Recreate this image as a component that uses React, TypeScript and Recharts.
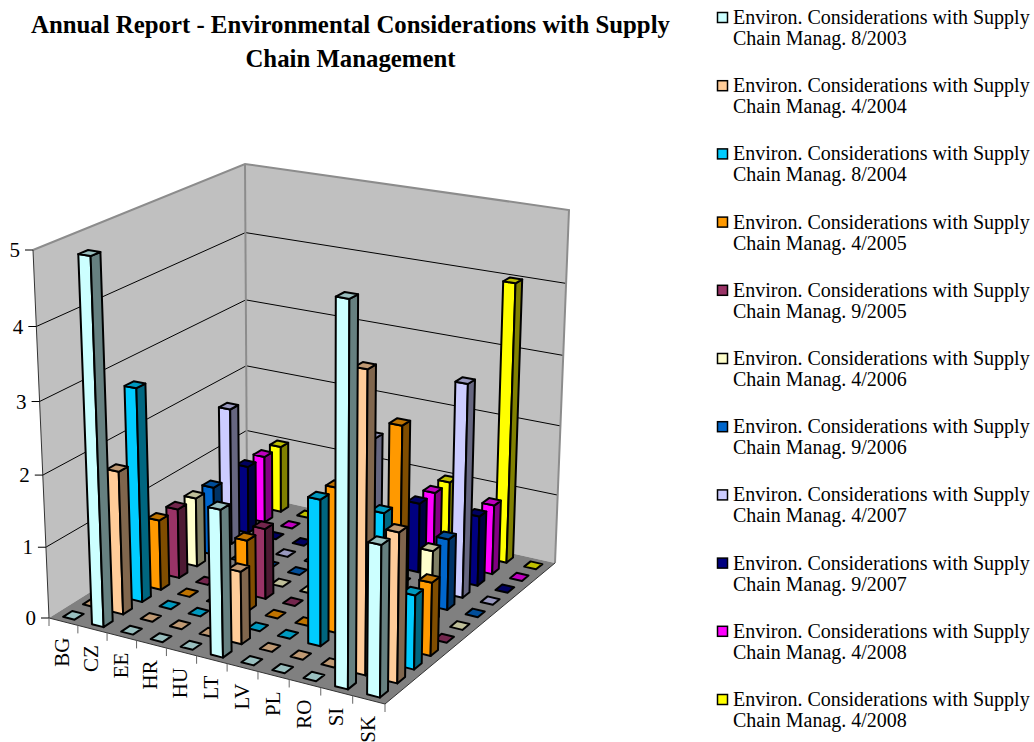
import React from 'react';
import { ScatterChart, Scatter, XAxis, YAxis } from 'recharts';

const WIDTH = 1034;
const HEIGHT = 742;
const FONT = '"Liberation Serif", "Times New Roman", serif';

const titleLines = [
  'Annual Report - Environmental Considerations with Supply',
  'Chain Management',
];
const countries = ['BG', 'CZ', 'EE', 'HR', 'HU', 'LT', 'LV', 'PL', 'RO', 'SI', 'SK'];
const valueTicks = [0, 1, 2, 3, 4, 5];
const MAX_VALUE = 5;

const seriesPrefix = 'Environ. Considerations with Supply';
const seriesDates = ['8/2003', '4/2004', '8/2004', '4/2005', '9/2005', '4/2006', '9/2006', '4/2007', '9/2007', '4/2008', '4/2008'];
const seriesColors = ['#ccffff', '#ffcc99', '#00ccff', '#ff9900', '#993366', '#ffffcc', '#0066cc', '#ccccff', '#000080', '#ff00ff', '#ffff00'];

// one row per survey, one column per country
const aug2003 = [0, 5, 0, 0, 0, 2, 0, 0, 0, 5, 2];
const apr2004 = [0, 2, 0, 0, 0, 1, 0, 0, 0, 4, 2];
const aug2004 = [0, 3, 0, 0, 0, 0, 0, 2, 0, 2, 1];
const apr2005 = [0, 1, 0, 0, 1, 0, 0, 2, 0, 3, 1];
const sep2005 = [0, 1, 0, 0, 1, 0, 0, 0, 0, 0, 0];
const apr2006 = [0, 1, 0, 0, 0, 0, 0, 0, 0, 1, 0];
const sep2006 = [0, 1, 0, 0, 0, 0, 0, 0, 0, 1, 0];
const apr2007 = [0, 2, 0, 0, 0, 0, 2, 0, 0, 3, 0];
const sep2007 = [0, 1, 0, 0, 0, 0, 0, 1, 0, 1, 0];
const apr2008a = [0, 1, 0, 0, 0, 0, 0, 1, 0, 1, 0];
const apr2008b = [0, 1, 0, 0, 0, 0, 0, 1, 0, 4, 0];
const seriesValues = [aug2003, apr2004, aug2004, apr2005, sep2005, apr2006, sep2006, apr2007, sep2007, apr2008a, apr2008b];

type Pt = [number, number];

// corners of the plot box: left, front, right, back
const floorQuad: Pt[] = [[49, 618], [385, 704], [555, 563], [247, 494]];
const ceilQuad: Pt[] = [[33, 250], [389, 309], [569, 210], [245, 164]];

// unit square to quad perspective map
const makeHomography = (q: Pt[]) => {
  const [[x0, y0], [x1, y1], [x2, y2], [x3, y3]] = q;
  const dx1 = x1 - x2, dx2 = x3 - x2, sx = x0 - x1 + x2 - x3;
  const dy1 = y1 - y2, dy2 = y3 - y2, sy = y0 - y1 + y2 - y3;
  const den = dx1 * dy2 - dx2 * dy1;
  const g = (sx * dy2 - dx2 * sy) / den;
  const h = (dx1 * sy - sx * dy1) / den;
  const a = x1 - x0 + g * x1, b = x3 - x0 + h * x3;
  const d = y1 - y0 + g * y1, e = y3 - y0 + h * y3;
  return (u: number, v: number): Pt => {
    const w = g * u + h * v + 1;
    return [(a * u + b * v + x0) / w, (d * u + e * v + y0) / w];
  };
};
const floorMap = makeHomography(floorQuad);
const ceilMap = makeHomography(ceilQuad);

// u along the countries, v along the surveys, value up
const project = (u: number, v: number, value: number): Pt => {
  const t = value / MAX_VALUE;
  const z = t / (t + (1 - t) * 1.05);
  const [fx, fy] = floorMap(u, v);
  const [cx, cy] = ceilMap(u, v);
  return [fx + (cx - fx) * z, fy + (cy - fy) * z];
};

const toPoints = (pts: Pt[]) => pts.map((p) => `${p[0].toFixed(1)},${p[1].toFixed(1)}`).join(' ');

const shade = (hex: string, k: number) => {
  const n = parseInt(hex.slice(1), 16);
  const ch = (s: number) => Math.round(((n >> s) & 255) * k);
  return `rgb(${ch(16)},${ch(8)},${ch(0)})`;
};

const nCat = countries.length;
const nSer = seriesValues.length;
const BAR_U = 0.2;
const BAR_V = 0.23;

interface BarPoint {
  x: number;
  y: number;
  cat: number;
  ser: number;
  value: number;
}

const Bar3D = (props: any) => {
  const { cat, ser, value } = props.payload as BarPoint;
  const color = seriesColors[ser];
  const u0 = (cat + 0.5 - BAR_U) / nCat, u1 = (cat + 0.5 + BAR_U) / nCat;
  const v0 = (ser + 0.5 - BAR_V) / nSer, v1 = (ser + 0.5 + BAR_V) / nSer;
  const top = [project(u0, v0, value), project(u1, v0, value), project(u1, v1, value), project(u0, v1, value)];
  const bottom = [project(u0, v0, 0), project(u1, v0, 0), project(u1, v1, 0)];
  const line = { stroke: '#000', strokeWidth: 2, strokeLinejoin: 'round' as const };
  if (value === 0) {
    return <polygon points={toPoints(top)} fill={shade(color, 0.75)} {...line} />;
  }
  return (
    <g>
      <polygon points={toPoints([top[0], top[1], bottom[1], bottom[0]])} fill={color} {...line} />
      <polygon points={toPoints([top[1], top[2], bottom[2], bottom[1]])} fill={shade(color, 0.5)} {...line} />
      <polygon points={toPoints(top)} fill={shade(color, 0.75)} {...line} />
    </g>
  );
};

const BoxWalls = () => {
  const left = project(0, 0, 0), front = project(1, 0, 0), right = project(1, 1, 0), back = project(0, 1, 0);
  const leftTop = project(0, 0, MAX_VALUE), rightTop = project(1, 1, MAX_VALUE), backTop = project(0, 1, MAX_VALUE);
  return (
    <g>
      <polygon points={toPoints([leftTop, backTop, back, left])} fill="#c0c0c0" />
      <polygon points={toPoints([backTop, rightTop, right, back])} fill="#c0c0c0" />
      {valueTicks.slice(1, -1).map((t) => (
        <polyline
          key={t}
          points={toPoints([project(0, 0, t), project(0, 1, t), project(1, 1, t)])}
          fill="none"
          stroke="#000"
          strokeWidth={1}
        />
      ))}
      <polyline points={toPoints([leftTop, backTop, rightTop, right])} fill="none" stroke="#8c8c8c" strokeWidth={2} />
      <line x1={backTop[0]} y1={backTop[1]} x2={back[0]} y2={back[1]} stroke="#8c8c8c" strokeWidth={2} />
      <polygon points={toPoints([left, front, right, back])} fill="#808080" />
      <line x1={leftTop[0]} y1={leftTop[1]} x2={left[0]} y2={left[1]} stroke="#333" strokeWidth={1} />
      <polyline points={toPoints([left, front, right])} fill="none" stroke="#333" strokeWidth={1} />

      {/* value axis */}
      {valueTicks.map((t) => {
        const [x, y] = project(0, 0, t);
        return (
          <g key={t}>
            <line x1={x - 8} y1={y} x2={x} y2={y} stroke="#000" strokeWidth={1} />
            <text x={x - 13} y={y + 7} textAnchor="end" fontFamily={FONT} fontSize={21} fill="#000">
              {t}
            </text>
          </g>
        );
      })}

      {/* country axis */}
      {[...countries, ''].map((_, i) => {
        const [x, y] = project(i / nCat, 0, 0);
        return <line key={i} x1={x} y1={y} x2={x} y2={y + 8} stroke="#666" strokeWidth={1} />;
      })}
      {countries.map((name, i) => {
        const [x, y] = project((i + 0.5) / nCat, 0, 0);
        return (
          <text
            key={name}
            transform={`translate(${x + 6} ${y + 16}) rotate(-90)`}
            textAnchor="end"
            fontFamily={FONT}
            fontSize={21}
            fill="#000"
          >
            {name}
          </text>
        );
      })}
    </g>
  );
};

const ChartTitle = () => (
  <g fontFamily={FONT} fontWeight="bold" fontSize={24.8} textAnchor="middle" fill="#000">
    <text x={350.5} y={33}>{titleLines[0]}</text>
    <text x={350.5} y={66.5}>{titleLines[1]}</text>
  </g>
);

const SeriesLegend = () => (
  <g fontFamily={FONT} fontSize={20} fill="#000">
    {seriesDates.map((date, i) => {
      const y = 18 + i * 68.2;
      return (
        <g key={i}>
          <rect x={717.5} y={y - 5.5} width={10} height={10} fill={seriesColors[i]} stroke="#000" strokeWidth={1.5} />
          <text x={733} y={y + 6}>{seriesPrefix}</text>
          <text x={733} y={y + 27}>{`Chain Manag. ${date}`}</text>
        </g>
      );
    })}
  </g>
);

// back row first so nearer bars paint over it
const seriesOrder = seriesValues.map((_, i) => nSer - 1 - i);
const pointsFor = (ser: number): BarPoint[] =>
  seriesValues[ser].map((value, cat) => {
    const [x, y] = project((cat + 0.5) / nCat, (ser + 0.5) / nSer, 0);
    return { x, y, cat, ser, value };
  });

export default function App() {
  return (
    <div style={{ position: 'absolute', left: 0, top: 0 }}>
      <ScatterChart width={WIDTH} height={HEIGHT} margin={{ top: 0, right: 0, bottom: 0, left: 0 }}>
        <XAxis type="number" dataKey="x" domain={[0, WIDTH]} hide />
        <YAxis type="number" dataKey="y" domain={[0, HEIGHT]} reversed hide />
        <BoxWalls />
        <ChartTitle />
        <SeriesLegend />
        {seriesOrder.map((ser) => (
          <Scatter
            key={ser}
            name={`${seriesPrefix} Chain Manag. ${seriesDates[ser]}`}
            data={pointsFor(ser)}
            shape={(p: any) => <Bar3D {...p} />}
            isAnimationActive={false}
          />
        ))}
      </ScatterChart>
    </div>
  );
}
